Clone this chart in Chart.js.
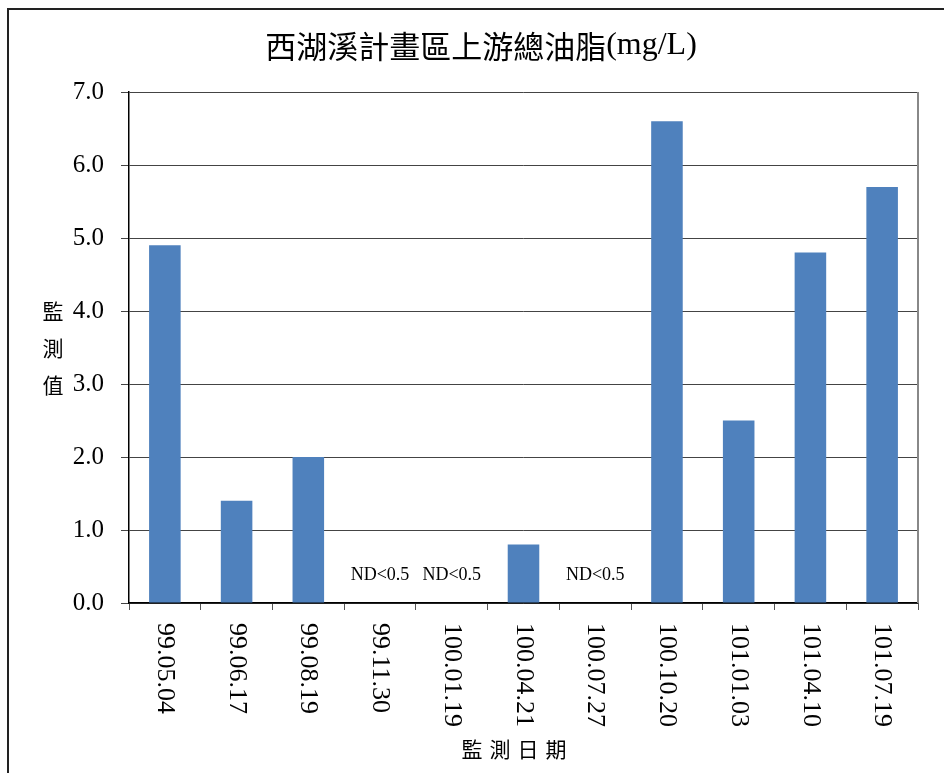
<!DOCTYPE html>
<html>
<head>
<meta charset="utf-8">
<script src="https://cdn.jsdelivr.net/npm/chart.js@4.4.1/dist/chart.umd.min.js"></script>
<style>
  html, body { margin: 0; padding: 0; background: #fff; }
  #wrap { width: 944px; height: 773px; position: relative; }
</style>
</head>
<body>
<div id="wrap"><canvas id="chart" width="944" height="773"></canvas></div>
<script>
// 資料
const dates = ['99.05.04', '99.06.17', '99.08.19', '99.11.30', '100.01.19', '100.04.21',
               '100.07.27', '100.10.20', '101.01.03', '101.04.10', '101.07.19'];
const oilValues = [4.9, 1.4, 2.0, 0, 0, 0.8, 0, 6.6, 2.5, 4.8, 5.7];
const ndLabels = ['', '', '', 'ND<0.5', 'ND<0.5', '', 'ND<0.5', '', '', '', ''];
const yTicks = [0, 1, 2, 3, 4, 5, 6, 7];

const titleCjk = '西湖溪計畫區上游總油脂';
const titleUnit = '(mg/L)';
const yTitle = ['監', '測', '值'];
const xTitle = ['監', '測', '日', '期'];

const SERIF = "'Liberation Serif', 'Times New Roman', serif";
const CJK = "'Noto Sans CJK TC', 'Noto Sans CJK SC', sans-serif";

// 標題、座標軸標籤等自訂文字
const decorPlugin = {
  id: 'decor',
  afterDraw(chart) {
    const { ctx, chartArea: a, scales } = chart;
    const x = scales.x;
    ctx.save();

    // 外框
    ctx.strokeStyle = '#222';
    ctx.lineWidth = 2;
    ctx.beginPath();
    ctx.moveTo(8, 800);
    ctx.lineTo(8, 9);
    ctx.lineTo(960, 9);
    ctx.stroke();

    // 圖區右框
    ctx.strokeStyle = '#888';
    ctx.lineWidth = 2;
    ctx.beginPath();
    ctx.moveTo(a.right, a.top);
    ctx.lineTo(a.right, a.bottom);
    ctx.stroke();

    ctx.fillStyle = '#000';

    // 標題
    ctx.textAlign = 'left';
    ctx.textBaseline = 'middle';
    ctx.font = '31px ' + CJK;
    const w1 = ctx.measureText(titleCjk).width;
    ctx.font = '32px ' + SERIF;
    const w2 = ctx.measureText(titleUnit).width;
    const tx = 481 - (w1 + w2) / 2;
    ctx.font = '31px ' + CJK;
    ctx.fillText(titleCjk, tx, 46);
    ctx.font = '32px ' + SERIF;
    ctx.fillText(titleUnit, tx + w1, 46);

    // Y 軸標題（直排）
    ctx.font = '21px ' + CJK;
    ctx.textAlign = 'center';
    yTitle.forEach((c, i) => ctx.fillText(c, 53, 311 + i * 37));

    // X 軸標題
    xTitle.forEach((c, i) => ctx.fillText(c, 472 + i * 28, 749));

    // X 軸刻度標籤（順時針旋轉）
    ctx.font = '26px ' + SERIF;
    ctx.textAlign = 'left';
    ctx.textBaseline = 'middle';
    dates.forEach((d, i) => {
      const px = x.getPixelForValue(i);
      ctx.save();
      ctx.translate(px, a.bottom + 20);
      ctx.rotate(Math.PI / 2);
      ctx.fillText(d, 0, 0);
      ctx.restore();
    });

    // ND 標註
    ctx.font = '18px ' + SERIF;
    ctx.textAlign = 'center';
    ndLabels.forEach((t, i) => {
      if (t) ctx.fillText(t, x.getPixelForValue(i), 575);
    });

    ctx.restore();
  }
};

new Chart(document.getElementById('chart'), {
  type: 'bar',
  data: {
    labels: dates,
    datasets: [{
      data: oilValues,
      backgroundColor: '#4F81BD',
      borderWidth: 0,
      categoryPercentage: 1,
      barPercentage: 0.44
    }]
  },
  options: {
    responsive: false,
    animation: false,
    layout: { padding: { top: 92, right: 26, left: 0, bottom: 0 } },
    plugins: {
      legend: { display: false },
      tooltip: { enabled: false },
      title: { display: false }
    },
    scales: {
      x: {
        offset: true,
        grid: {
          offset: true,
          drawOnChartArea: false,
          drawTicks: true,
          tickLength: 7,
          color: '#555'
        },
        border: { color: '#000', width: 1.5 },
        ticks: { display: false },
        afterFit(s) { s.height = 170; }
      },
      y: {
        min: 0,
        max: 7,
        afterBuildTicks(s) { s.ticks = yTicks.map(v => ({ value: v })); },
        grid: {
          color: '#444',
          lineWidth: 1,
          tickLength: 8,
          tickColor: '#444'
        },
        border: { color: '#000', width: 1.5 },
        ticks: {
          color: '#000',
          padding: 17,
          font: { family: SERIF, size: 25 },
          callback: v => Number(v).toFixed(1)
        },
        afterFit(s) { s.width = 129; }
      }
    }
  },
  plugins: [decorPlugin]
});
</script>
</body>
</html>
